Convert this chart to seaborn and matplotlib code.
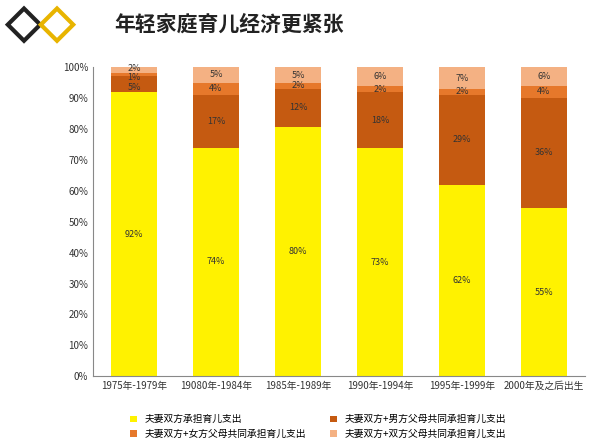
import numpy as np
import pandas as pd
import matplotlib
matplotlib.use("Agg")
import matplotlib.pyplot as plt
import matplotlib.ticker as mtick
import seaborn as sns
from matplotlib.patches import Polygon

plt.rcParams['font.family'] = ['Noto Sans CJK SC', 'Noto Sans CJK JP', 'Noto Sans CJK TC',
                               'Noto Sans CJK KR', 'DejaVu Sans']

categories = ['1975年-1979年', '19080年-1984年', '1985年-1989年',
              '1990年-1994年', '1995年-1999年', '2000年及之后出生']
couple_only = [92, 74, 80, 73, 62, 55]
with_husband_parents = [5, 17, 12, 18, 29, 36]
with_wife_parents = [1, 4, 2, 2, 2, 4]
with_both_parents = [2, 5, 5, 6, 7, 6]

series_names = ['夫妻双方承担育儿支出', '夫妻双方+男方父母共同承担育儿支出',
                '夫妻双方+女方父母共同承担育儿支出', '夫妻双方+双方父母共同承担育儿支出']
colors = ['#FFF200', '#C55A11', '#E6782B', '#F4B183']

df = pd.DataFrame({'category': categories,
                   series_names[0]: couple_only,
                   series_names[1]: with_husband_parents,
                   series_names[2]: with_wife_parents,
                   series_names[3]: with_both_parents})
vals = df[series_names].values.astype(float)
share = vals / vals.sum(axis=1, keepdims=True) * 100

fig = plt.figure(figsize=(6.0, 4.48), dpi=100)
ax = fig.add_axes([0.155, 0.16, 0.82, 0.69])

# label positions for the crowded first bar (small slices)
first_bar_label_y = [None, 93.3, 96.6, 99.6]

bottom = np.zeros(len(categories))
for i, name in enumerate(series_names):
    sns.barplot(x=categories, y=share[:, i], bottom=bottom, color=colors[i],
                width=0.55, ax=ax, label=name, saturation=1)
    for j, v in enumerate(share[:, i]):
        y = bottom[j] + v / 2
        if j == 0 and first_bar_label_y[i] is not None:
            y = first_bar_label_y[i]
        ax.text(j, y, f'{int(vals[j, i])}%', ha='center', va='center',
                fontsize=6.5, color='#333333')
    bottom += share[:, i]

ax.set_ylim(0, 100)
ax.set_xlim(-0.5, len(categories) - 0.5)
ax.yaxis.set_major_locator(mtick.MultipleLocator(10))
ax.yaxis.set_major_formatter(mtick.PercentFormatter(decimals=0))
ax.tick_params(axis='both', labelsize=7, colors='#333333', length=0)
for s in ['top', 'right']:
    ax.spines[s].set_visible(False)
ax.spines['left'].set_color('#888888')
ax.spines['bottom'].set_color('#888888')

handles, labels = ax.get_legend_handles_labels()
order = [0, 2, 1, 3]
fig.legend([handles[k] for k in order], [labels[k] for k in order],
           loc='lower center', ncol=2, frameon=False, fontsize=7,
           bbox_to_anchor=(0.53, 0.0), handlelength=0.7, handleheight=0.7,
           columnspacing=2.5)
if ax.get_legend():
    ax.get_legend().remove()

# header
fig.text(0.19, 0.945, '年轻家庭育儿经济更紧张', fontsize=15, fontweight='bold',
         va='center', color='#222222')
for cx, col in [(0.04, '#222222'), (0.095, '#E8B400')]:
    w, h = 0.027, 0.036
    fig.patches.append(Polygon([(cx - w, 0.945), (cx, 0.945 + h), (cx + w, 0.945),
                                (cx, 0.945 - h)], closed=True, fill=False,
                               edgecolor=col, linewidth=3, transform=fig.transFigure))

fig.savefig('out.png', dpi=100)
